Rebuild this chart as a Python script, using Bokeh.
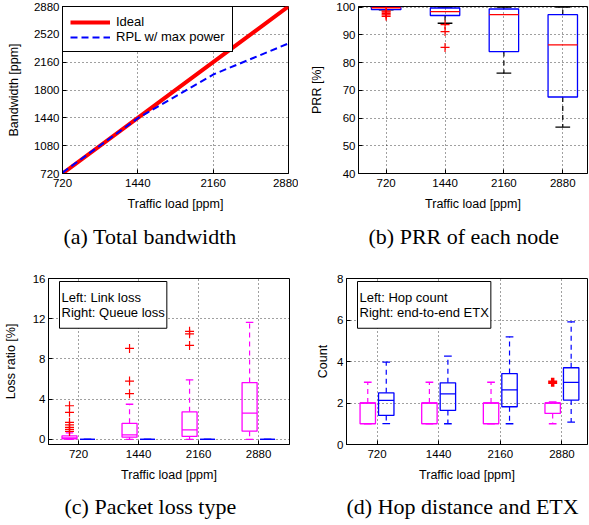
import numpy as np
from bokeh.plotting import figure
from bokeh.layouts import column, row
from bokeh.models import Range1d, FixedTicker, Label, ColumnDataSource, Title
from bokeh.embed import file_html
from bokeh.resources import INLINE

# ---------------- data ----------------
loads = [720, 1440, 2160, 2880]
load_labels = ["720", "1440", "2160", "2880"]

# (a) total bandwidth [ppm]
ideal_bw = [720, 1440, 2160, 2880]
rpl_bw = [732, 1435, 2000, 2402]

# (b) PRR of each node [%]
prr_lo = [99.0, 94.2, 76.2, 56.7]
prr_q1 = [99.1, 97.0, 84.0, 67.6]
prr_med = [99.8, 98.4, 97.3, 86.4]
prr_q3 = [100.0, 99.7, 99.35, 97.3]
prr_hi = [100.0, 100.0, 100.0, 100.0]
prr_out = [[98.6, 98.2, 97.7, 97.2, 96.7], [93.7, 91.2, 85.5], [], []]

# (c) packet loss type [%]
link_lo = [0.0, 0.0, 0.0, 0.0]
link_q1 = [0.07, 0.23, 0.3, 0.82]
link_med = [0.15, 0.46, 0.95, 2.62]
link_q3 = [0.36, 1.6, 2.75, 5.66]
link_hi = [0.65, 3.5, 5.93, 11.64]
link_out = [[3.35, 2.7, 1.7, 1.45, 1.2, 1.0, 0.8], [9.05, 5.8, 4.55], [10.75, 10.5, 9.35], []]

queue_lo = [0.0, 0.0, 0.0, 0.0]
queue_q1 = [0.0, 0.0, 0.0, 0.0]
queue_med = [0.0, 0.0, 0.0, 0.0]
queue_q3 = [0.0, 0.0, 0.0, 0.0]
queue_hi = [0.0, 0.0, 0.0, 0.0]
queue_out = [[], [], [], []]

# (d) hop count and end-to-end ETX
hop_lo = [1.0, 1.0, 1.0, 1.0]
hop_q1 = [1.0, 1.0, 1.0, 1.5]
hop_med = [2.0, 2.0, 2.0, 2.0]
hop_q3 = [2.0, 2.0, 2.0, 2.0]
hop_hi = [3.0, 3.0, 3.0, 2.05]
hop_out = [[], [], [], [3.0]]

etx_lo = [1.01, 1.0, 1.0, 1.08]
etx_q1 = [1.40, 1.64, 1.82, 2.14]
etx_med = [2.13, 2.44, 2.63, 2.99]
etx_q3 = [2.49, 2.97, 3.42, 3.70]
etx_hi = [3.97, 4.26, 5.19, 5.91]
etx_out = [[], [], [], []]

captions = ["(a) Total bandwidth", "(b) PRR of each node",
            "(c) Packet loss type", "(d) Hop distance and ETX"]

# ---------------- layout constants ----------------
PRR_POS = [1, 2, 3, 4]
LEFT_POS = [1.0, 3.0, 5.0, 7.0]
RIGHT_POS = [1.6, 3.6, 5.6, 7.6]
GROUP_TICKS = [1.3, 3.3, 5.3, 7.3]

RED = "#ff0000"
BLUE = "#0000ff"
MAGENTA = "#ff00ff"
SANS = "Liberation Sans"
SERIF = "Liberation Serif"


def make_fig(xr, yr, fw, fh, bl, br, bt, bb, xticks, xlabels, yticks, xlab, ylab, ylab_standoff):
    p = figure(x_range=Range1d(*xr), y_range=Range1d(*yr), frame_width=fw, frame_height=fh,
               min_border_left=bl, min_border_right=br, min_border_top=bt, min_border_bottom=bb,
               output_backend="svg", toolbar_location=None, tools="")
    p.background_fill_color = "white"
    p.border_fill_color = "white"
    p.outline_line_color = "black"
    p.outline_line_alpha = 1
    p.outline_line_width = 1
    p.xaxis.ticker = FixedTicker(ticks=list(xticks))
    p.xaxis.major_label_overrides = {t: s for t, s in zip(xticks, xlabels)}
    p.yaxis.ticker = FixedTicker(ticks=list(yticks))
    p.xgrid.ticker = FixedTicker(ticks=list(xticks))
    p.ygrid.ticker = FixedTicker(ticks=list(yticks))
    for ax in (p.xaxis[0], p.yaxis[0]):
        ax.axis_line_color = "black"
        ax.major_tick_in = 4
        ax.major_tick_out = 0
        ax.major_tick_line_color = "black"
        ax.minor_tick_line_color = None
        ax.major_label_text_font = SANS
        ax.major_label_text_font_size = "11.5px"
        ax.major_label_text_color = "black"
        ax.axis_label_text_font = SANS
        ax.axis_label_text_font_size = "12.5px"
        ax.axis_label_text_font_style = "normal"
        ax.axis_label_text_color = "black"
    p.xaxis.major_label_standoff = 5
    p.xaxis.axis_label_standoff = 7
    p.yaxis.major_label_standoff = 3
    p.yaxis.axis_label_standoff = ylab_standoff
    p.xaxis.axis_label = xlab
    p.yaxis.axis_label = ylab
    p.grid.grid_line_color = "black"
    p.grid.grid_line_dash = "1 3"
    p.grid.grid_line_alpha = 0.75
    p.grid.grid_line_width = 1
    return p


def draw_boxes(p, pos, lo, q1, med, q3, hi, outs, box_color, med_color, whisk_color,
               out_lw=1.2, width=0.5, cap=0.25):
    x = np.asarray(pos, dtype=float)
    src = ColumnDataSource(dict(x=x, lo=lo, q1=q1, med=med, q3=q3, hi=hi,
                                l=x - width / 2, r=x + width / 2,
                                cl=x - cap / 2, cr=x + cap / 2))
    p.segment("x", "q3", "x", "hi", source=src, line_color=whisk_color, line_dash="5 4", line_width=1.2)
    p.segment("x", "q1", "x", "lo", source=src, line_color=whisk_color, line_dash="5 4", line_width=1.2)
    p.segment("cl", "hi", "cr", "hi", source=src, line_color=whisk_color, line_width=1.3)
    p.segment("cl", "lo", "cr", "lo", source=src, line_color=whisk_color, line_width=1.3)
    p.quad(left="l", right="r", bottom="q1", top="q3", source=src,
           fill_color=None, line_color=box_color, line_width=1.3)
    p.segment("l", "med", "r", "med", source=src, line_color=med_color, line_width=1.3)
    ox = [xx for xx, o in zip(x, outs) for _ in o]
    oy = [v for o in outs for v in o]
    if ox:
        p.scatter(ox, oy, marker="cross", size=9, line_color=RED, line_width=out_lw)


def caption(p, text, offset, standoff):
    p.add_layout(Title(text=text, align="left", offset=offset, standoff=standoff,
                       text_font=SERIF, text_font_size="22px", text_font_style="normal",
                       text_color="black"), "below")


def text_box(p, fh, text):
    p.add_layout(Label(x=11, y=fh - 3, x_units="screen", y_units="screen", text=text,
                       text_font=SANS, text_font_size="13px", text_color="black",
                       text_align="left", text_baseline="top", text_line_height=1.05,
                       background_fill_color="white", border_line_color="black",
                       border_line_width=1, padding=(2, 8)))


# ---------------- (a) ----------------
pa = make_fig((720, 2880), (720, 2880), 226, 167, 62, 10, 6, 95,
              loads, load_labels, [720, 1080, 1440, 1800, 2160, 2520, 2880],
              "Traffic load [ppm]", "Bandwidth [ppm]", 10)
pa.line(loads, ideal_bw, line_color=RED, line_width=4, legend_label="Ideal")
pa.line(loads, rpl_bw, line_color=BLUE, line_width=2, line_dash="7 4", legend_label="RPL w/ max power")
lg = pa.legend[0]
lg.location = "top_left"
lg.margin = 0
lg.padding = 7
lg.spacing = 0
lg.glyph_width = 40
lg.glyph_height = 14
lg.label_height = 14
lg.label_standoff = 6
lg.border_line_color = "black"
lg.border_line_alpha = 1
lg.border_line_width = 1
lg.background_fill_color = "white"
lg.background_fill_alpha = 1
lg.label_text_font = SANS
lg.label_text_font_size = "13px"
lg.label_text_color = "black"
caption(pa, captions[0], 1, 16)

# ---------------- (b) ----------------
pb = make_fig((0.53, 4.42), (40, 100.25), 229, 167, 60, 1, 6, 95,
              PRR_POS, load_labels, [40, 50, 60, 70, 80, 90, 100],
              "Traffic load [ppm]", "PRR [%]", 9)
draw_boxes(pb, PRR_POS, prr_lo, prr_q1, prr_med, prr_q3, prr_hi, prr_out,
           BLUE, RED, "black")
caption(pb, captions[1], 10, 16)

# ---------------- (c) ----------------
pc = make_fig((0.3, 8.33), (-0.5, 16), 241, 166, 48, 9, 10, 81,
              GROUP_TICKS, load_labels, [0, 4, 8, 12, 16],
              "Traffic load [ppm]", "Loss ratio [%]", 12)
draw_boxes(pc, LEFT_POS, link_lo, link_q1, link_med, link_q3, link_hi, link_out,
           MAGENTA, MAGENTA, MAGENTA)
draw_boxes(pc, RIGHT_POS, queue_lo, queue_q1, queue_med, queue_q3, queue_hi, queue_out,
           BLUE, BLUE, BLUE)
text_box(pc, 166, "Left: Link loss\nRight: Queue loss")
caption(pc, captions[2], 16, 15)

# ---------------- (d) ----------------
pd_ = make_fig((0.31, 8.13), (0, 8), 241, 166, 48, 1, 10, 81,
               GROUP_TICKS, load_labels, [0, 2, 4, 6, 8],
               "Traffic load [ppm]", "Count", 4)
draw_boxes(pd_, LEFT_POS, hop_lo, hop_q1, hop_med, hop_q3, hop_hi, hop_out,
           MAGENTA, MAGENTA, MAGENTA, out_lw=3.5)
draw_boxes(pd_, RIGHT_POS, etx_lo, etx_q1, etx_med, etx_q3, etx_hi, etx_out,
           BLUE, BLUE, BLUE)
text_box(pd_, 166, "Left: Hop count\nRight: end-to-end ETX")
caption(pd_, captions[3], 0, 15)

page = column(row(pa, pb), row(pc, pd_))

open("out.html", "w").write(file_html(page, INLINE))
